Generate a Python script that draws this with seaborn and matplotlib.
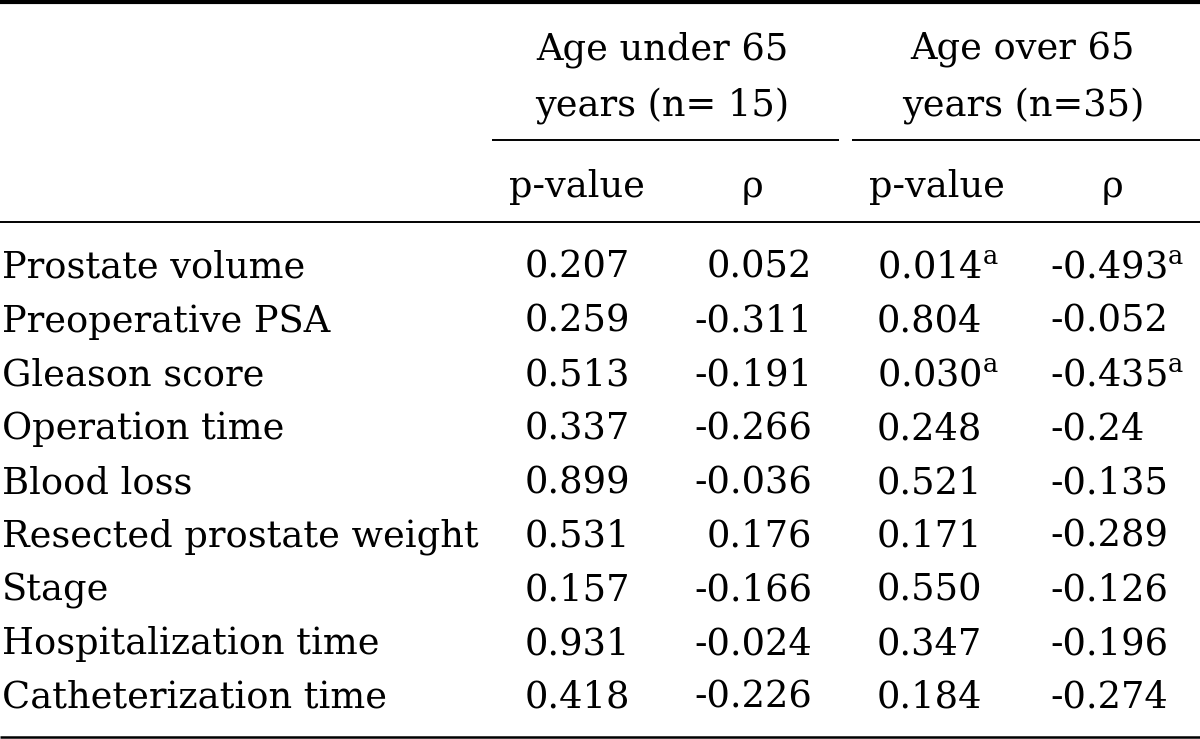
import matplotlib
matplotlib.use("Agg")
import matplotlib.pyplot as plt
import seaborn as sns

# table content
variables = ["Prostate volume", "Preoperative PSA", "Gleason score", "Operation time",
             "Blood loss", "Resected prostate weight", "Stage",
             "Hospitalization time", "Catheterization time"]
under65_p = ["0.207", "0.259", "0.513", "0.337", "0.899", "0.531", "0.157", "0.931", "0.418"]
under65_rho = ["0.052", "-0.311", "-0.191", "-0.266", "-0.036", "0.176", "-0.166", "-0.024", "-0.226"]
over65_p = ["0.014", "0.804", "0.030", "0.248", "0.521", "0.171", "0.550", "0.347", "0.184"]
over65_rho = ["-0.493", "-0.052", "-0.435", "-0.24", "-0.135", "-0.289", "-0.126", "-0.196", "-0.274"]
significant = [True, False, True, False, False, False, False, False, False]

group_headers = [("Age under 65", "years (n= 15)"), ("Age over 65", "years (n=35)")]
sub_headers = ["p-value", "\u03c1", "p-value", "\u03c1"]

sns.set_style("white")
plt.rcParams["font.family"] = ["DejaVu Serif"]
plt.rcParams["mathtext.fontset"] = "dejavuserif"

W, H = 1200, 739
fig = plt.figure(figsize=(12, 7.39), dpi=100)
ax = fig.add_axes([0, 0, 1, 1])
ax.set_xlim(0, W)
ax.set_ylim(H, 0)
ax.axis("off")

fs = 26.5
txt = dict(fontsize=fs, color="black", va="baseline")

# rules
ax.hlines(2, 0, W, color="black", lw=3)
ax.hlines(140, 492, 839, color="black", lw=1.4)
ax.hlines(140, 852, W, color="black", lw=1.4)
ax.hlines(222, 0, W, color="black", lw=1.4)
ax.hlines(736.5, 0, W, color="black", lw=1.8)

# group headers
group_x = [662, 1023]
for gx, (l1, l2) in zip(group_x, group_headers):
    ax.text(gx, 59, l1, ha="center", **txt)
    ax.text(gx, 115, l2, ha="center", **txt)

sub_x = [577, 753, 937, 1113]
for sx, label in zip(sub_x, sub_headers):
    ax.text(sx, 197, label, ha="center", **txt)

# body
y0, step = 278, 53.75
sup = r"$^{\mathrm{a}}$"
for i, name in enumerate(variables):
    y = y0 + i * step
    ax.text(2, y, name, ha="left", **txt)
    ax.text(525, y, under65_p[i], ha="left", **txt)
    ax.text(812, y, under65_rho[i], ha="right", **txt)
    mark = sup if significant[i] else ""
    ax.text(877, y, over65_p[i] + mark, ha="left", **txt)
    ax.text(1050, y, over65_rho[i] + mark, ha="left", **txt)

fig.savefig("out.png", dpi=100, facecolor="white")
